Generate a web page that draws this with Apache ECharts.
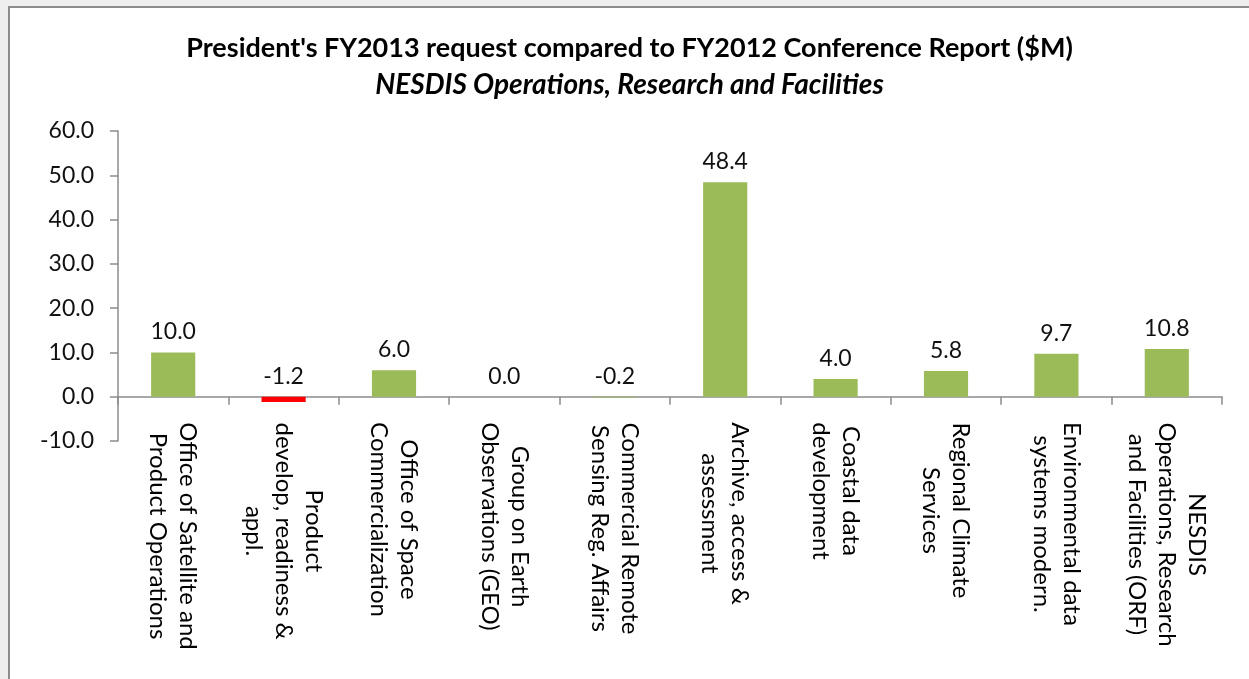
<!DOCTYPE html>
<html>
<head>
<meta charset="utf-8">
<script src="https://cdn.jsdelivr.net/npm/echarts@6/dist/echarts.min.js"></script>
<style>
    html, body { margin: 0; padding: 0; background: #eeeeee; overflow: hidden; }
    #main {
        position: absolute; left: 8px; top: 6px;
        width: 1239px; height: 671px;
        background: #ffffff;
        border-left: 2px solid #8c8c8c;
        border-top: 2px solid #8c8c8c;
    }
</style>
</head>
<body>
<div id="main"></div>
<script>
    // 类别（Excel 中的换行保留）
    var categories = [
        'Office of Satellite and\nProduct Operations',
        'Product\ndevelop, readiness &\nappl.',
        'Office of Space\nCommercialization',
        'Group on Earth\nObservations (GEO)',
        'Commercial Remote\nSensing Reg. Affairs',
        'Archive, access &\nassessment',
        'Coastal data\ndevelopment',
        'Regional Climate\nServices',
        'Environmental data\nsystems modern.',
        'NESDIS\nOperations, Research\nand Facilities (ORF)'
    ];
    var values = [10.0, -1.2, 6.0, 0.0, -0.2, 48.4, 4.0, 5.8, 9.7, 10.8];
    var yTicks = [-10, 0, 10, 20, 30, 40, 50, 60];

    var FONT = 'Lato';
    var CAT_SIZE = 24;
    var GREEN = '#9bbb59';
    var RED = '#ff0000';

    function draw() {
        // 量一下每个标签最长那行的宽度，好让各行居中
        var ctx = document.createElement('canvas').getContext('2d');
        ctx.font = CAT_SIZE + 'px ' + FONT;
        var rich = {};
        categories.forEach(function (c, i) {
            var w = 0;
            c.split('\n').forEach(function (line) {
                w = Math.max(w, ctx.measureText(line).width);
            });
            rich['l' + i] = {
                width: Math.ceil(w), align: 'center',
                fontFamily: FONT, fontSize: CAT_SIZE, lineHeight: 30, color: '#000'
            };
        });

        var chart = echarts.init(document.getElementById('main'));

        var barData = values.map(function (v, i) {
            return {value: v, itemStyle: {color: i === 1 ? RED : GREEN}};
        });

        chart.setOption({
            animation: false,
            title: {
                text: "President's FY2013 request compared to FY2012 Conference Report ($M)",
                subtext: 'NESDIS Operations, Research and Facilities',
                left: 'center',
                top: 18,
                itemGap: 3,
                textStyle: {fontFamily: FONT, fontSize: 27, lineHeight: 34, fontWeight: 'bold', color: '#000'},
                subtextStyle: {fontFamily: FONT, fontSize: 28, lineHeight: 34, fontWeight: 'bold', fontStyle: 'italic', color: '#000'}
            },
            grid: {left: 108, right: 27, top: 123, bottom: 238, containLabel: false, outerBoundsMode: 'none'},
            xAxis: {
                type: 'category',
                data: categories,
                axisLine: {onZero: true, lineStyle: {color: '#8c8c8c', width: 1.5}},
                axisTick: {show: true, length: 8, lineStyle: {color: '#8c8c8c', width: 1.5}},
                axisLabel: {
                    rotate: -90,
                    interval: 0,
                    margin: -19,
                    formatter: function (val, idx) {
                        return val.split('\n').map(function (line) {
                            return '{l' + idx + '|' + line + '}';
                        }).join('\n');
                    },
                    rich: rich
                }
            },
            yAxis: {
                type: 'value',
                min: yTicks[0],
                max: yTicks[yTicks.length - 1],
                interval: 10,
                splitLine: {show: false},
                axisLine: {show: true, lineStyle: {color: '#8c8c8c', width: 1.5}},
                axisTick: {show: true, length: 8, lineStyle: {color: '#8c8c8c', width: 1.5}},
                axisLabel: {
                    margin: 24,
                    fontFamily: FONT, fontSize: 23, color: '#111',
                    formatter: function (v) { return v.toFixed(1); }
                }
            },
            series: [{
                type: 'bar',
                data: barData,
                barWidth: '40%',
                label: {
                    show: true,
                    position: 'top',
                    distance: 9,
                    fontFamily: FONT, fontSize: 23, color: '#111',
                    formatter: function (p) { return p.value.toFixed(1); }
                }
            }]
        });
    }

    if (document.fonts && document.fonts.load) {
        Promise.all([
            document.fonts.load(CAT_SIZE + 'px ' + FONT),
            document.fonts.load('bold 27px ' + FONT),
            document.fonts.load('italic bold 28px ' + FONT)
        ]).then(draw, draw);
    } else {
        draw();
    }
</script>
</body>
</html>
